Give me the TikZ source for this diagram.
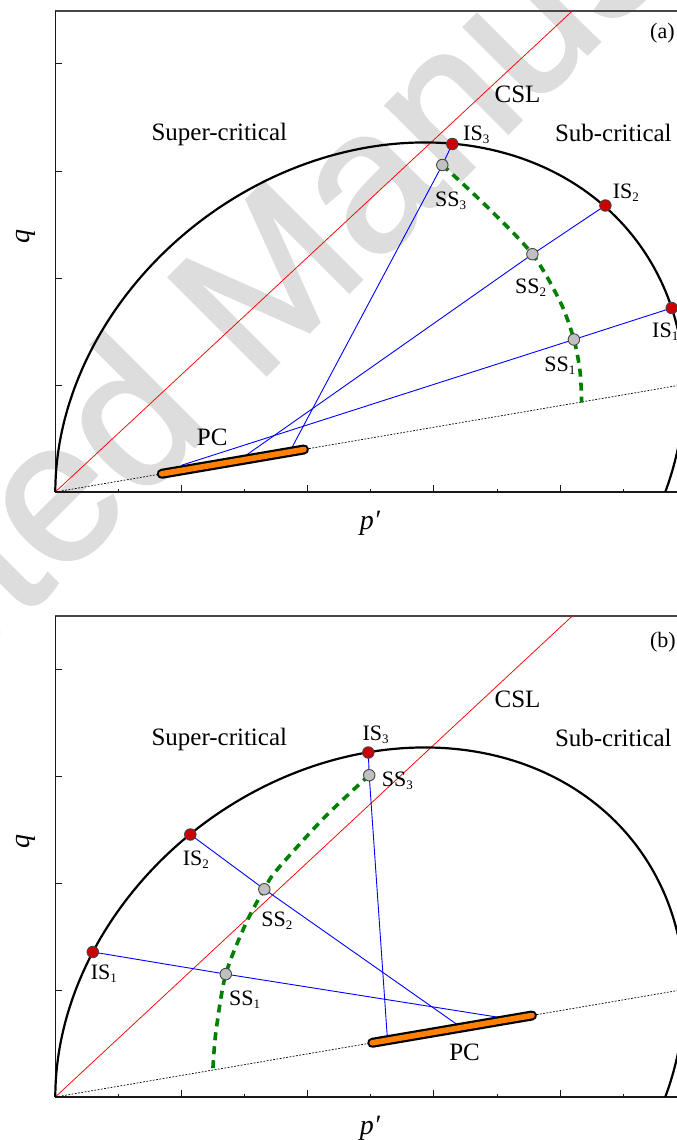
\documentclass[tikz,border=0pt]{standalone}
\usepackage{fontspec}
\setmainfont{Liberation Serif}
\newfontfamily\wmfont[FakeBold=1.6]{Liberation Sans}
\definecolor{wmgray}{RGB}{221,221,221}
\definecolor{isred}{RGB}{204,0,0}
\definecolor{ssgray}{RGB}{192,192,192}
\definecolor{mkedge}{RGB}{70,70,70}
\definecolor{barorange}{RGB}{255,128,0}
\definecolor{ssgreen}{RGB}{0,128,0}
\newcommand\lab[2]{#1\raisebox{-3pt}{\fontsize{13}{13}\selectfont #2}}
\newcommand\panelbase[1]{%
  \draw[framel] (0,481) -- (660,481);
  \draw[axisl] (0,481) -- (0,0) -- (660,0);
  \foreach \k in {2,4,6,8} \draw[tickl] (63.1*\k,0) -- ++(0,7);
  \foreach \k in {1,3,5,7,9} \draw[tickl] (63.1*\k,0) -- ++(0,3.5);
  \foreach \k in {1,...,4} \draw[tickl] (0,107*\k) -- ++(7,0);
  \draw[cslline] (0,0) -- (517,481);
  \draw[dotl] (0,0) -- (660,112.9);
  \draw[ysurf] plot[domain=0:200.07, samples=240, variable=\t]
    ({314.55*(1-cos(\t))},{0.165*314.55*(1-cos(\t))+293.1*sin(\t)});
  \node[mainlab, anchor=base west] (#1sup) at (96,351.5) {Super-critical};
  \node[mainlab, anchor=base west] (#1sub) at (499.5,351) {Sub-critical};
  \node[mainlab, anchor=base west] (#1csl) at (439.1,389.3) {CSL};
  \node[axlab, rotate=90] (#1q) at (-29.3,256) {\itshape q};
  \node[axlab] (#1p) at (314.7,-31) {\itshape p′};
}
\begin{document}
\begin{tikzpicture}[x=1pt,y=1pt,
  framel/.style={line width=1.3pt, draw=black!72},
  axisl/.style={line width=1.4pt, draw=black!90, line join=miter},
  tickl/.style={line width=1pt, draw=black!90},
  cslline/.style={draw=red, line width=0.75pt},
  dotl/.style={draw=black, line width=0.7pt, dash pattern=on 1.8pt off 1.5pt},
  ysurf/.style={draw=black, line width=2.2pt},
  bluel/.style={draw=blue, line width=0.9pt},
  gpath/.style={draw=ssgreen, line width=3.6pt, dash pattern=on 8pt off 6pt},
  ismark/.style={circle, fill=isred, draw=mkedge, line width=0.9pt, minimum size=11.5pt, inner sep=0pt},
  ssmark/.style={circle, fill=ssgray, draw=mkedge, line width=0.9pt, minimum size=11.5pt, inner sep=0pt},
  barout/.style={draw=black, line width=10pt, line cap=round},
  barin/.style={draw=barorange, line width=5.6pt, line cap=round},
  mainlab/.style={font=\fontsize{25}{30}\selectfont, inner sep=0pt},
  smlab/.style={font=\fontsize{22}{26}\selectfont, inner sep=0pt, anchor=base west},
  axlab/.style={font=\fontsize{28}{32}\selectfont, inner sep=0pt},
  wmark/.style={font=\wmfont\fontsize{200}{200}\selectfont, text=wmgray, inner sep=0pt}
]
\useasboundingbox (0,-1140) rectangle (677,0);
\fill[white] (0,-1140) rectangle (677,0);
% watermark
\node[wmark, rotate=45] (wm) at (250,-318) {Accepted Manuscript};

% ---------------- panel (a) ----------------
\begin{scope}[shift={(55.3,-492)}]
  \panelbase{a}
  \coordinate (aIS1) at (616.4,184);
  \coordinate (aIS2) at (550.1,286.5);
  \coordinate (aIS3) at (397,348);
  \coordinate (aSS1) at (518.6,152.5);
  \coordinate (aSS2) at (477.1,237.8);
  \coordinate (aSS3) at (387,327);
  \coordinate (aE1) at (126.1,26.7);
  \coordinate (aE2) at (188.3,35);
  \coordinate (aE3) at (234.8,41);
  \coordinate (aB1) at (106.4,18.2);
  \coordinate (aB2) at (248.7,42.5);
  \draw[bluel] (aIS1) -- (aSS1) -- (aE1);
  \draw[bluel] (aIS2) -- (aSS2) -- (aE2);
  \draw[bluel] (aIS3) -- (aSS3) -- (aE3);
  \draw[gpath] plot[smooth] coordinates {(387,327) (432,285) (477.1,237.8) (505,190) (518.6,152.5) (524.8,120) (526.3,89.3)};
  \draw[barout] (aB1) -- (aB2);
  \draw[barin] (aB1) -- (aB2);
  \node[ismark] (aIS1m) at (aIS1) {};
  \node[ismark] (aIS2m) at (aIS2) {};
  \node[ismark] (aIS3m) at (aIS3) {};
  \node[ssmark] (aSS1m) at (aSS1) {};
  \node[ssmark] (aSS2m) at (aSS2) {};
  \node[ssmark] (aSS3m) at (aSS3) {};
  \node[smlab] (aIS1l) at (596.7,154.6) {\lab{IS}{1}};
  \node[smlab] (aIS2l) at (557.4,293.7) {\lab{IS}{2}};
  \node[smlab] (aIS3l) at (407.7,352) {\lab{IS}{3}};
  \node[smlab] (aSS1l) at (488.8,120.7) {\lab{SS}{1}};
  \node[smlab] (aSS2l) at (459.7,198.7) {\lab{SS}{2}};
  \node[smlab] (aSS3l) at (379.7,286) {\lab{SS}{3}};
  \node[mainlab, anchor=base west] (aPC) at (141.4,47) {PC};
  \node[smlab] (atag) at (594.7,453.7) {(a)};
\end{scope}

% ---------------- panel (b) ----------------
\begin{scope}[shift={(55.3,-1097)}]
  \panelbase{b}
  \coordinate (bIS1) at (37.5,145);
  \coordinate (bIS2) at (135,262.5);
  \coordinate (bIS3) at (313,344.5);
  \coordinate (bSS1) at (170.5,122.9);
  \coordinate (bSS2) at (209,207.8);
  \coordinate (bSS3) at (313.9,321.8);
  \coordinate (bE1) at (443.4,79.7);
  \coordinate (bE2) at (401.5,72.7);
  \coordinate (bE3) at (332,59.7);
  \coordinate (bB1) at (316.9,54.2);
  \coordinate (bB2) at (476.7,81.5);
  \draw[bluel] (bIS1) -- (bSS1) -- (bE1);
  \draw[bluel] (bIS2) -- (bSS2) -- (bE2);
  \draw[bluel] (bIS3) -- (bSS3) -- (bE3);
  \draw[gpath] plot[smooth] coordinates {(313.9,321.8) (268.6,279) (221,226.4) (209,207.8) (190.8,174) (170.5,122.9) (160.6,65) (157.6,28.2)};
  \draw[barout] (bB1) -- (bB2);
  \draw[barin] (bB1) -- (bB2);
  \node[ismark] (bIS1m) at (bIS1) {};
  \node[ismark] (bIS2m) at (bIS2) {};
  \node[ismark] (bIS3m) at (bIS3) {};
  \node[ssmark] (bSS1m) at (bSS1) {};
  \node[ssmark] (bSS2m) at (bSS2) {};
  \node[ssmark] (bSS3m) at (bSS3) {};
  \node[smlab] (bIS1l) at (35.4,117.6) {\lab{IS}{1}};
  \node[smlab] (bIS2l) at (127.4,231.6) {\lab{IS}{2}};
  \node[smlab] (bIS3l) at (307,356.3) {\lab{IS}{3}};
  \node[smlab] (bSS1l) at (173.6,91.3) {\lab{SS}{1}};
  \node[smlab] (bSS2l) at (205.9,170.9) {\lab{SS}{2}};
  \node[smlab] (bSS3l) at (326.4,310.3) {\lab{SS}{3}};
  \node[mainlab, anchor=base west] (bPC) at (393.8,37) {PC};
  \node[smlab] (btag) at (594.6,450) {(b)};
\end{scope}
\end{tikzpicture}
\end{document}
